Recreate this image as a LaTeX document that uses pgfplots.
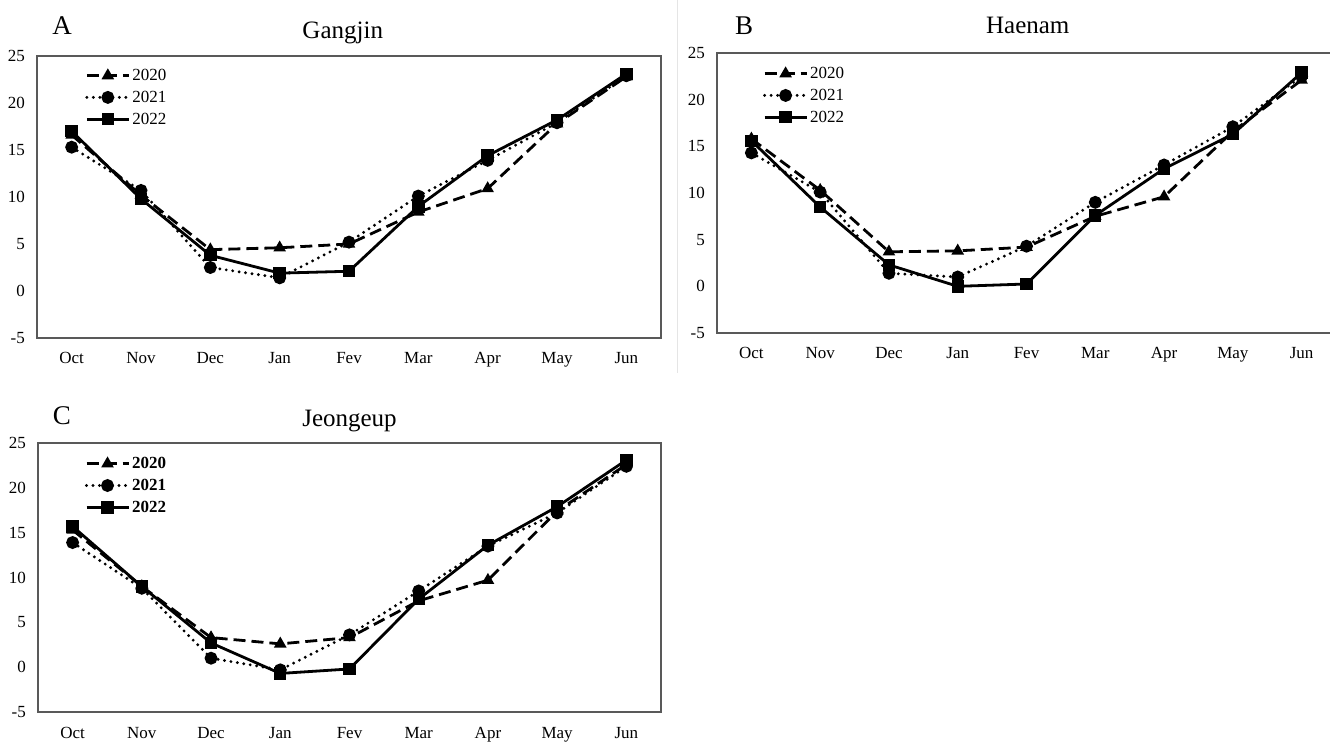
\documentclass[border=0pt]{standalone}
\usepackage{fontspec}
\setmainfont{Liberation Serif}
\usepackage{pgfplots}
\pgfplotsset{compat=1.18}

% one panel = Excel-like line chart, categories centred in bins
\pgfplotsset{
  panel/.style={
    scale only axis, anchor=south west, clip=false,
    xmin=-0.5, xmax=8.5, ymin=-5, ymax=25,
    xtick={0,...,8},
    xticklabels={Oct,Nov,Dec,Jan,Fev,Mar,Apr,May,Jun},
    ytick={-5,0,5,10,15,20,25},
    major tick length=0pt,
    axis line style={draw=black!65, line width=1.2pt},
    /pgf/number format/assume math mode=true,
    tick label style={font=\fontsize{17}{19}\selectfont},
    yticklabel style={anchor=east, inner sep=0pt, xshift=-12pt},
    xticklabel style={anchor=base, inner sep=0pt, yshift=-26pt},
    title style={font=\fontsize{25}{29}\selectfont, anchor=base},
    legend style={draw=none, fill=none, inner sep=0pt, anchor=north west,
      row sep=5pt, font=\fontsize{17}{20}\selectfont, cells={anchor=west}},
    legend image code/.code={
      \draw[mark repeat=2,mark phase=2] plot coordinates {(0pt,0pt) (21pt,0pt) (42pt,0pt)};},
  },
  s2020/.style={black, line width=2.8pt, dash pattern=on 12pt off 6pt,
    mark=triangle*, mark size=4.5pt, mark options={solid}},
  s2021/.style={black, line width=3.2pt, line cap=round, dash pattern=on 0pt off 6.5pt,
    mark=*, mark size=4.8pt, mark options={solid}},
  s2022/.style={black, line width=2.8pt, mark=square*, mark size=4.8pt},
}

\begin{document}
\begin{tikzpicture}
\useasboundingbox (0pt,0pt) rectangle (1330pt,742pt);
\draw[black!10, line width=1pt] (677pt,742pt) -- (677pt,369pt);

% A - Gangjin
\begin{axis}[panel, at={(37pt,404pt)}, width=624pt, height=282pt,
  title={Gangjin}, title style={at={(0.49,1)}, yshift=11pt},
  legend style={at={(0.077,0.961)}}]
\addplot[s2020] coordinates {(0,16.6) (1,10.2) (2,4.4) (3,4.6) (4,5.0) (5,8.4) (6,10.9) (7,17.8) (8,22.8)};
\addplot[s2021] coordinates {(0,15.3) (1,10.7) (2,2.5) (3,1.4) (4,5.2) (5,10.1) (6,13.9) (7,17.9) (8,22.9)};
\addplot[s2022] coordinates {(0,17.0) (1,9.8) (2,3.8) (3,1.9) (4,2.1) (5,9.0) (6,14.4) (7,18.2) (8,23.1)};
\legend{2020,2021,2022}
\end{axis}

% B - Haenam
\begin{axis}[panel, at={(717pt,409pt)}, width=619pt, height=280pt,
  title={Haenam}, title style={at={(0.502,1)}, yshift=13pt},
  legend style={at={(0.074,0.957)}}]
\addplot[s2020] coordinates {(0,15.8) (1,10.3) (2,3.7) (3,3.8) (4,4.2) (5,7.5) (6,9.6) (7,16.6) (8,22.1)};
\addplot[s2021] coordinates {(0,14.3) (1,10.1) (2,1.4) (3,1.0) (4,4.3) (5,9.0) (6,13.0) (7,17.1) (8,22.5)};
\addplot[s2022] coordinates {(0,15.6) (1,8.5) (2,2.3) (3,0.0) (4,0.25) (5,7.6) (6,12.6) (7,16.3) (8,22.9)};
\legend{2020,2021,2022}
\end{axis}

% C - Jeongeup
\begin{axis}[panel, at={(38pt,30pt)}, width=623pt, height=269pt,
  title={Jeongeup}, title style={at={(0.5,1)}, yshift=11pt},
  legend style={at={(0.075,0.955)}, font=\fontsize{17}{20}\selectfont\bfseries}]
\addplot[s2020] coordinates {(0,15.3) (1,9.0) (2,3.3) (3,2.6) (4,3.3) (5,7.4) (6,9.7) (7,17.4) (8,22.6)};
\addplot[s2021] coordinates {(0,13.9) (1,8.8) (2,1.0) (3,-0.3) (4,3.6) (5,8.5) (6,13.5) (7,17.2) (8,22.4)};
\addplot[s2022] coordinates {(0,15.7) (1,9.0) (2,2.7) (3,-0.7) (4,-0.2) (5,7.6) (6,13.6) (7,17.9) (8,23.1)};
\legend{2020,2021,2022}
\end{axis}

\node[anchor=base, font=\fontsize{27}{31}\selectfont] at (62pt,707pt) {A};
\node[anchor=base, font=\fontsize{27}{31}\selectfont] at (744pt,707pt) {B};
\node[anchor=base, font=\fontsize{27}{31}\selectfont] at (62pt,317pt) {C};
\end{tikzpicture}
\end{document}
